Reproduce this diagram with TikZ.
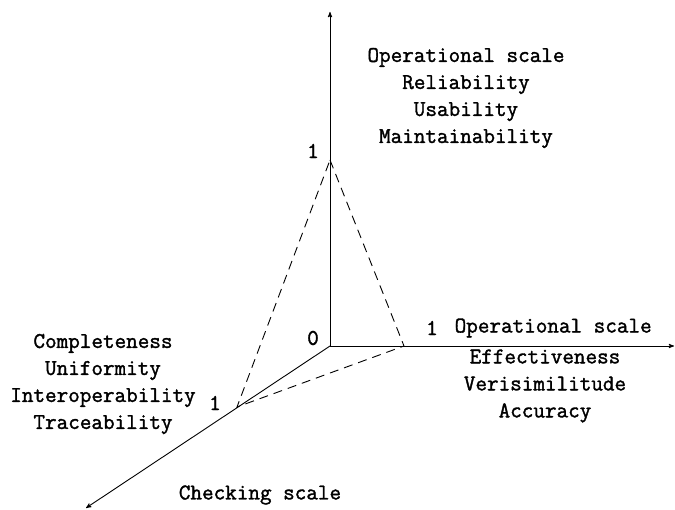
\documentclass[tikz,border=0pt]{standalone}
\usepackage{fontspec}
\setmonofont[FakeBold=1.5]{Latin Modern Mono}
\usetikzlibrary{arrows,positioning}

\begin{document}
\begin{tikzpicture}[>=stealth', x=1pt, y=-1pt, line width=0.9pt,
    every node/.style={font=\fontsize{22.5}{27}\ttfamily, inner sep=1pt},
    axis/.style={->},
    face/.style={dash pattern=on 9pt off 6pt},
    block/.style={align=center}]
    \useasboundingbox (0,0) rectangle (675,510);
    % axes
    \coordinate (O)    at (330,346);
    \coordinate (Zend) at (330,12);
    \coordinate (Xend) at (674,346);
    \coordinate (Yend) at (86,508);
    \coordinate (Z1)   at (330,160);
    \coordinate (X1)   at (404,346);
    \coordinate (Y1)   at (237,407);
    \draw[axis] (O) -- (Zend);
    \draw[axis] (O) -- (Xend);
    \draw[axis] (O) -- (Yend);
    \draw[face] (Z1) -- (X1) -- (Y1) -- cycle;
    % ticks
    \node (zero) at (313,338) {0};
    \node (zone) at (313,151) {1};
    \node (xone) at (432,328) {1};
    \node (yone) at (215,403) {1};
    % labels
    \node [right=14pt of xone] (xlab) {Operational scale};
    \node [block] (xlist) at (545,386) {Effectiveness\\Verisimilitude\\Accuracy};
    \node [block] (zlist) at (466,98) {Operational scale\\Reliability\\Usability\\Maintainability};
    \node [block] (ylist) at (103,384) {Completeness\\Uniformity\\Interoperability\\Traceability};
    \node (ylab) at (260,495) {Checking scale};
\end{tikzpicture}
\end{document}
